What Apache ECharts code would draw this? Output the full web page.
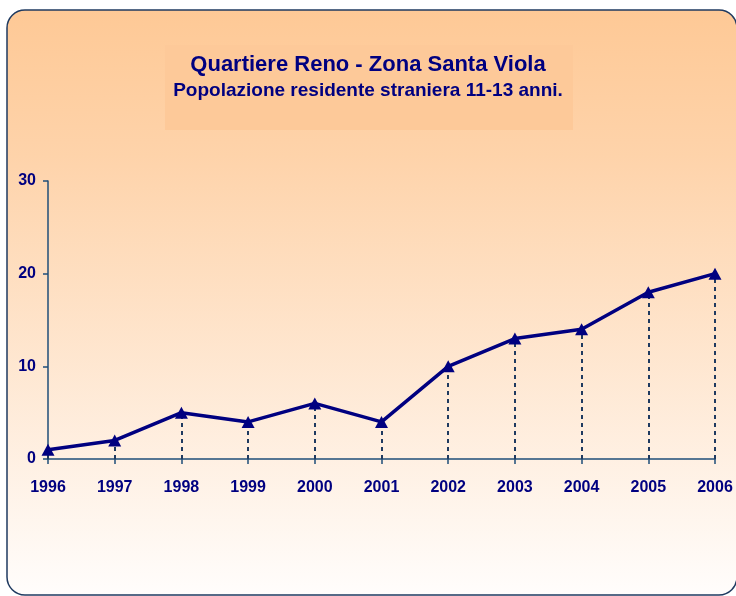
<!DOCTYPE html>
<html><head><meta charset="utf-8">
<script src="https://cdn.jsdelivr.net/npm/echarts@6/dist/echarts.min.js"></script>
<style>html,body{margin:0;padding:0;background:#fff}#c{width:736px;height:596px}</style>
</head><body><div id="c"></div>
<script>
const years = ['1996','1997','1998','1999','2000','2001','2002','2003','2004','2005','2006'];
const values = [1, 2, 5, 4, 6, 4, 10, 13, 14, 18, 20];
const yTicks = [0, 10, 20, 30];
const titleText = 'Quartiere Reno - Zona Santa Viola';
const subtitleText = 'Popolazione residente straniera 11-13 anni.';

const chart = echarts.init(document.getElementById('c'), null, {renderer:'canvas'});
const navy = '#000080';
const axisCol = '#1f4e79';
const ff = 'Liberation Sans, Arial, sans-serif';
chart.setOption({
  backgroundColor: '#ffffff',
  animation: false,
  graphic: [
    {type:'rect', z:-10, shape:{x:7, y:10, width:730, height:585, r:18},
     style:{fill:new echarts.graphic.LinearGradient(0,0,0,1,[{offset:0,color:'#fec996'},{offset:0.25,color:'#fed3aa'},{offset:1,color:'#fffdfc'}]), stroke:'#1f3a60', lineWidth:1.5}},
    {type:'rect', z:-9, shape:{x:165, y:45, width:408, height:85},
     style:{fill:'#fdc999'}}
  ],
  title: {
    text: titleText, subtext: subtitleText, left: 'center', top: 49,
    itemGap: 5,
    textStyle:{fontFamily:ff, fontSize:22, fontWeight:'bold', color:navy},
    subtextStyle:{fontFamily:ff, fontSize:19, fontWeight:'bold', color:navy}
  },
  grid: {left:48, right:21, top:181, bottom:137, containLabel:false},
  xAxis: {
    type:'category', data: years, boundaryGap:false,
    axisLine:{lineStyle:{color:axisCol, width:1.5}},
    axisTick:{show:true, length:5, lineStyle:{color:axisCol, width:1.5}, alignWithLabel:true},
    axisLabel:{color:navy, fontFamily:ff, fontSize:16, fontWeight:'bold', margin:21}
  },
  yAxis: {
    type:'value', min:yTicks[0], max:yTicks[yTicks.length-1], interval:10,
    axisLine:{show:true, lineStyle:{color:axisCol, width:1.5}},
    axisTick:{show:true, length:5, lineStyle:{color:axisCol, width:1.5}},
    splitLine:{show:false},
    axisLabel:{color:navy, fontFamily:ff, fontSize:16, fontWeight:'bold', margin:12}
  },
  series: [{
    type:'line', data: values,
    symbol:'triangle', symbolSize:[13,12], showAllSymbol:true,
    lineStyle:{color:navy, width:3.5},
    itemStyle:{color:navy},
    markLine:{
      silent:true, symbol:['none','none'], label:{show:false}, z:1,
      lineStyle:{type:[4,4], color:'#1f3a60', width:2},
      data: values.map((v,i)=>[{coord:[i,0]},{coord:[i,v]}])
    }
  }]
});
</script></body></html>
